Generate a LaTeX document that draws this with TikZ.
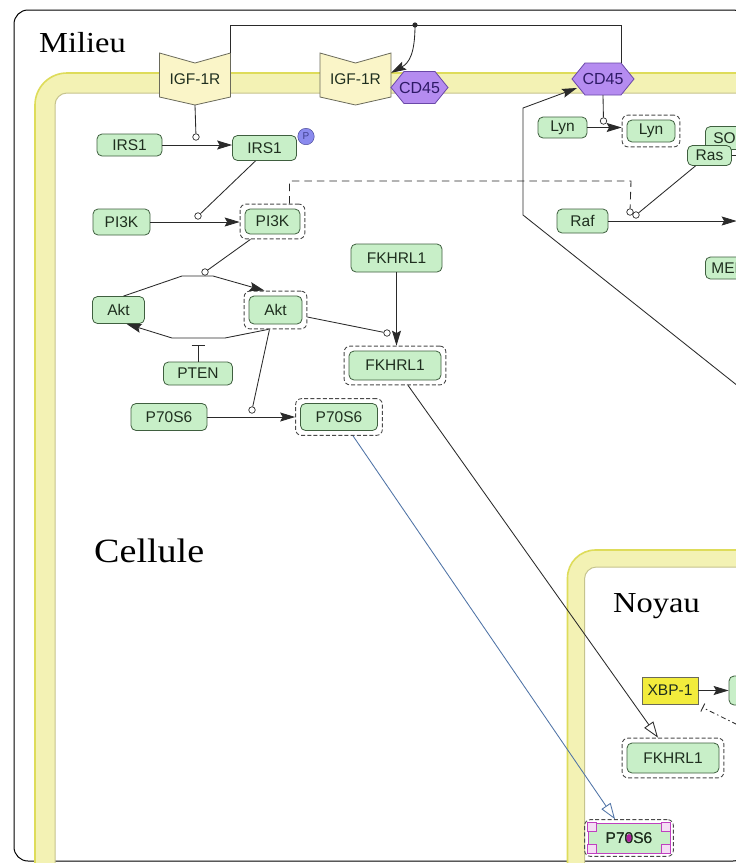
\documentclass[tikz,border=0pt]{standalone}
\usepackage{fontspec}
\setmainfont{Liberation Serif}
\setsansfont{Liberation Sans}
\usetikzlibrary{arrows.meta,calc,fit}

\definecolor{nodefill}{HTML}{C8EFC8}
\definecolor{nodeedge}{HTML}{3F5F3F}
\definecolor{nodetext}{HTML}{1F2F1F}
\definecolor{igffill}{HTML}{FAF5C8}
\definecolor{igfedge}{HTML}{6A6A5A}
\definecolor{hexfill}{HTML}{B58CF0}
\definecolor{hexedge}{HTML}{6A48A8}
\definecolor{hextext}{HTML}{2E1A66}
\definecolor{membfill}{HTML}{F3F2B4}
\definecolor{membout}{HTML}{DEDC5A}
\definecolor{membin}{HTML}{C6C48E}
\definecolor{linkgray}{HTML}{2A2A2A}
\definecolor{linkblue}{HTML}{4F73A6}
\definecolor{rimgray}{HTML}{4A4A4A}
\definecolor{xbpfill}{HTML}{F2EC3C}
\definecolor{pfill}{HTML}{8A8AEE}
\definecolor{pedge}{HTML}{404090}
\definecolor{pinkedge}{HTML}{C040C0}
\definecolor{pinkcell}{HTML}{F4DDF4}
\definecolor{dotmag}{HTML}{B0209F}

\begin{document}
\begin{tikzpicture}[x=1pt,y=-1pt,
  wh/.style 2 args={minimum width=#1pt, minimum height=#2pt},
  gbox/.style={draw=nodeedge, fill=nodefill, text=nodetext, rounded corners=5pt,
    line width=0.8pt, inner sep=0pt, font=\sffamily\fontsize{15.5}{17}\selectfont},
  rim/.style={draw=rimgray, dash pattern=on 4pt off 2.2pt, line width=0.9pt,
    rounded corners=6pt, inner sep=4.5pt},
  cat/.style={circle, draw=linkgray, fill=white, line width=0.7pt, inner sep=0pt,
    minimum size=6.5pt},
  link/.style={draw=linkgray, line width=0.85pt},
  act/.style={link, -{Stealth[length=15pt,width=9pt,inset=2.5pt]}},
  conv/.style={link, -{Triangle[open,length=16pt,width=11pt]}},
  igf/.style={draw=igfedge, fill=igffill, line width=0.8pt},
  igftext/.style={inner sep=0pt, text=nodetext, font=\sffamily\fontsize{15.5}{17}\selectfont},
  hex/.style={draw=hexedge, fill=hexfill, line width=0.8pt},
  hexlabel/.style={inner sep=0pt, text=hextext, font=\sffamily\fontsize{16}{18}\selectfont},
  place/.style={inner sep=0pt, font=\fontsize{29}{32}\selectfont, xscale=1.12},
  xbpbox/.style={draw=igfedge, fill=xbpfill, text=nodetext, line width=0.8pt,
    inner sep=0pt, font=\sffamily\fontsize{15.5}{17}\selectfont},
  pinkbox/.style={draw=pinkedge, fill=nodefill, text=nodetext, line width=0.8pt,
    inner sep=0pt, font=\sffamily\fontsize{15.5}{17}\selectfont},
  pcirc/.style={circle, draw=pedge, fill=pfill, inner sep=0pt, minimum size=16.5pt,
    text=pedge, font=\sffamily\fontsize{10}{11}\selectfont}
]
\useasboundingbox (0,0) rectangle (736,863);
\clip (0,0) rectangle (736,863);
\fill[white] (0,0) rectangle (736,863);

% extracellular frame
\draw[line width=1pt, rounded corners=14pt] (14,10) rectangle (747,861);

% cell membrane
\draw[membfill, line width=20pt, rounded corners=22pt] (45,900) |- (800,83);
\draw[membout, line width=1.6pt, rounded corners=32pt] (35,900) |- (800,73);
\draw[membin, line width=1pt, rounded corners=12pt] (55,900) |- (800,93);

% nuclear envelope
\draw[membfill, line width=17pt, rounded corners=20pt] (576,900) |- (800,558.5);
\draw[membout, line width=1.6pt, rounded corners=28pt] (567.5,900) |- (800,550);
\draw[membin, line width=1pt, rounded corners=12pt] (584.5,900) |- (800,567);

% compartment names
\node[place, anchor=base west] (milieu) at (39,52) {Milieu};
\node[place, anchor=base west, font=\fontsize{34}{38}\selectfont] (cellule) at (94,562) {Cellule};
\node[place, anchor=base west] (noyau) at (613,612) {Noyau};

% IGF-1R receptors
\draw[igf] (159.5,53) -- (195,63) -- (230.5,53) -- (230.5,97) -- (195,105) -- (159.5,97) -- cycle;
\node[igftext, wh={71}{52}] (igfa) at (195,79) {IGF-1R};
\draw[igf] (320,53) -- (355.5,63) -- (391,53) -- (391,97) -- (355.5,105) -- (320,97) -- cycle;
\node[igftext, wh={71}{52}] (igfb) at (355.5,79) {IGF-1R};

% CD45 phosphatases
\draw[hex] (391,87.5) -- (404,71.5) -- (435,71.5) -- (448,87.5) -- (435,103.5) -- (404,103.5) -- cycle;
\node[hexlabel, wh={57}{32}] (cd45a) at (419.5,87.5) {CD45};
\draw[hex] (572,79) -- (585,63) -- (621,63) -- (634,79) -- (621,95) -- (585,95) -- cycle;
\node[hexlabel, wh={62}{32}] (cd45b) at (603,79) {CD45};

% cytoplasmic species
\node[gbox, wh={65}{22}] (irs1a) at (129.5,145) {IRS1};
\node[gbox, wh={64}{25}] (irs1b) at (264.5,148) {IRS1};
\node[pcirc] (pmark) at (306,136.5) {P};
\node[gbox, wh={57}{26}] (pi3ka) at (121.5,222) {PI3K};
\node[gbox, wh={55}{25}] (pi3kb) at (272.5,221.5) {PI3K};
\node[rim, fit=(pi3kb)] (pi3kbo) {};
\node[gbox, wh={91}{28}] (fkha) at (396.5,258) {FKHRL1};
\node[gbox, wh={52}{27}] (akta) at (118.5,310) {Akt};
\node[gbox, wh={53}{28}] (aktb) at (275.5,310) {Akt};
\node[rim, fit=(aktb)] (aktbo) {};
\node[gbox, wh={69}{23}] (pten) at (198,373.5) {PTEN};
\node[gbox, wh={92}{29}] (fkhb) at (395,365.5) {FKHRL1};
\node[rim, fit=(fkhb)] (fkhbo) {};
\node[gbox, wh={76}{27}] (p70a) at (169,417) {P70S6};
\node[gbox, wh={77}{27}] (p70b) at (339,417) {P70S6};
\node[rim, fit=(p70b)] (p70bo) {};
\node[gbox, wh={49}{21}] (lyna) at (562.5,127.5) {Lyn};
\node[gbox, wh={48}{22}] (lynb) at (651,131) {Lyn};
\node[rim, fit=(lynb)] (lynbo) {};
\node[gbox, anchor=west, minimum height=23pt, text width=48pt, align=left, inner xsep=8pt] (sos) at (705,138) {SOS};
\node[gbox, wh={44}{20}] (ras) at (709.5,155.5) {Ras};
\node[gbox, wh={51}{24}] (raf) at (582.5,221) {Raf};
\node[gbox, wh={60}{20}] (rafout) at (772,221) {};
\node[rim, fit=(rafout)] (rafouto) {};
\node[gbox, anchor=west, minimum height=22pt, text width=48pt, align=left, inner xsep=6pt] (mek) at (705,268) {MEK};

% nuclear species
\node[xbpbox, wh={56}{27}] (xbp) at (670,690.5) {XBP-1};
\node[gbox, wh={60}{29}] (xbpout) at (759,690.5) {};
\node[gbox, wh={92}{30}] (fkhn) at (673,758) {FKHRL1};
\node[rim, fit=(fkhn)] (fkhno) {};
\node[pinkbox, wh={82}{30}] (p70n) at (629,838) {P70S6};
\foreach \a/\dx/\dy in {north west/9/9, north east/-9/9, south west/9/-9, south east/-9/-9}
  \draw[draw=pinkedge, fill=pinkcell, line width=0.7pt] (p70n.\a) rectangle ++(\dx,\dy);
\node[pinkbox, draw=none, fill=none] (p70nt) at (p70n.center) {P70S6};
\fill[dotmag] (p70n.center) ellipse (2.6pt and 4pt);
\node[rim, fit=(p70n), inner sep=3pt] (p70no) {};

% catalysis markers
\node[cat] (c1) at (196,137) {};
\node[cat] (c2) at (198,216) {};
\node[cat] (c3) at (205,272) {};
\node[cat] (c4) at (387,333) {};
\node[cat] (c5) at (252,410) {};
\node[cat] (c6) at (603.5,121) {};
\node[cat] (c7) at (630,212) {};
\node[cat] (c8) at (636,215) {};

% bend points
\coordinate (jn) at (415,25);
\coordinate (jr) at (621,25);
\coordinate (ak1) at (182,276);
\coordinate (ak2) at (213,276);
\coordinate (ak3) at (225,338);
\coordinate (ak4) at (172,338);
\coordinate (ptenbar) at (198,345);
\coordinate (farR) at (748,394);
\coordinate (lb1) at (523,215);
\coordinate (lb2) at (523,108);
\coordinate (dk) at (631,181);
\coordinate (rasR) at (748,155.5);
\coordinate (xbpR) at (748,730);

% receptor crosstalk
\draw[link] (igfa.north east) |- (jr) -- (jr |- cd45b.north);
\fill[linkgray] (jn) circle (2.6pt);
\draw[act] (jn) .. controls (415,54) and (409,63) .. ($(igfb.north east)+(0,20)$);

% IRS1 / PI3K / Akt cascade
\draw[link] (igfa.south) -- (c1);
\draw[act] (irs1a.east) -- (irs1a.east -| irs1b.west);
\draw[link] ($(irs1b.south)+(-9,0)$) -- (c2);
\draw[act] (pi3ka.east) -- (pi3ka.east -| pi3kbo.west);
\draw[link] ($(pi3kbo.south)+(-22,0)$) -- (c3);
\draw[act] ($(akta.north)+(5,0)$) -- (ak1) -- (ak2) -- ($(aktbo.north)+(-11,0)$);
\draw[act] ($(aktbo.south)+(-7,0)$) -- (ak3) -- (ak4) -- ($(akta.south)+(8,0)$);
\draw[link, -{Bar[width=13pt]}] (pten.north) -- (ptenbar);
\draw[link] ($(aktbo.east)+(0,7)$) -- (c4);
\draw[act] (fkha.south) -- (fkha.south |- fkhbo.north);
\draw[link] ($(aktbo.south)+(-6,0)$) -- (c5);
\draw[act] (p70a.east) -- (p70a.east -| p70bo.west);

% nuclear translocation
\draw[conv] ($(fkhbo.south)+(13,0)$) -- ($(fkhno.north)+(-15,0)$);
\draw[conv, draw=linkblue] ($(p70bo.south)+(14,0)$) -- ($(p70no.north)+(-14,0)$);

% CD45 / Lyn / Ras / Raf
\draw[link] (cd45b.south) -- (c6);
\draw[act] (lyna.east) -- (lyna.east -| lynbo.west);
\draw[act] (farR) -- (lb1) -- (lb2) -- ($(cd45b.center)+(-26,9)$);
\draw[link, dash pattern=on 7.5pt off 5pt] ($(pi3kbo.north)+(17,0)$) |- (dk) -- (c7);
\draw[link] ($(ras.south)+(-14,0)$) -- (c8);
\draw[link] (ras.east) -- (rasR);
\draw[act] (raf.east) -- (raf.east -| rafouto.west);

% XBP-1
\draw[act] (xbp.east) -- (xbp.east -| xbpout.west);
\draw[link, dash pattern=on 5pt off 3pt on 1.5pt off 3pt, -{Bar[width=9pt]}] (xbpR) -- ($(xbp.south east)+(4,3)$);
\end{tikzpicture}
\end{document}
